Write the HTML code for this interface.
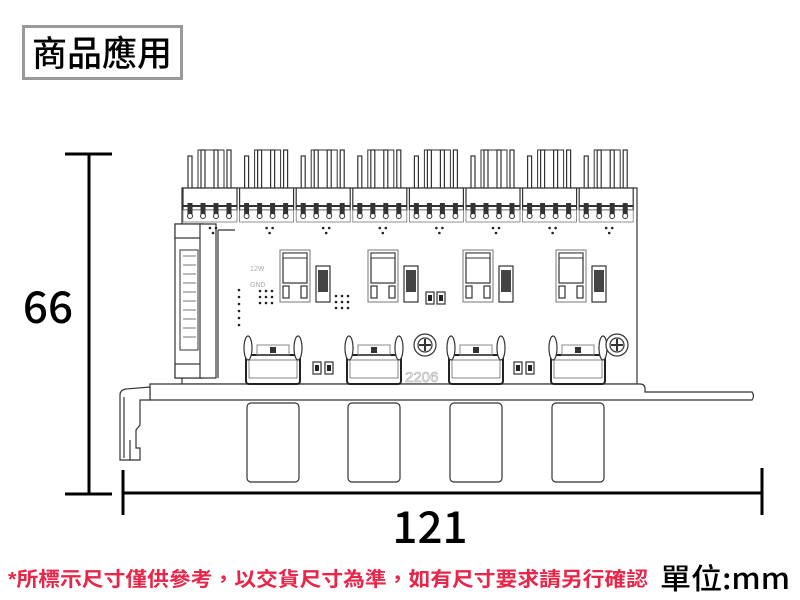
<!DOCTYPE html>
<html><head><meta charset="utf-8"><style>
html,body{margin:0;padding:0;background:#fff;width:800px;height:600px;overflow:hidden}
svg{display:block}
</style></head><body>
<svg id="s" width="800" height="600" viewBox="0 0 800 600" xmlns="http://www.w3.org/2000/svg">
<rect width="800" height="600" fill="#fff"/>
<rect x="23.5" y="26.5" width="158" height="52" fill="#fff" stroke="#999" stroke-width="3"/>
<text x="102" y="66" text-anchor="middle" font-family="Noto Sans CJK TC, sans-serif" font-weight="500" font-size="35" fill="#000" textLength="140" lengthAdjust="spacingAndGlyphs">商品應用</text>

<g stroke="#000" stroke-width="3" fill="none">
<line x1="89" y1="154" x2="89" y2="494"/>
<line x1="65" y1="154" x2="112" y2="154"/>
<line x1="65" y1="494" x2="112" y2="494"/>
<line x1="123" y1="493" x2="762" y2="493"/>
<line x1="123" y1="470" x2="123" y2="515"/>
<line x1="762" y1="468" x2="762" y2="515"/>
</g>
<text x="48" y="323" text-anchor="middle" font-family="Noto Sans CJK TC, sans-serif" font-weight="500" font-size="44" fill="#000">66</text>
<text x="430" y="543" text-anchor="middle" font-family="Noto Sans CJK TC, sans-serif" font-weight="500" font-size="44" fill="#000">121</text>

<g id="board" stroke="#333" stroke-width="1.2" fill="#fff">
<rect x="182" y="188" width="455" height="196"/>
<path d="M150 384 L640 384 Q645 384 645 389 L645 392 L752 392 Q755 396 752 400 L150 400 Z"/>
<path d="M120 395 Q120 390 126 389 L150 387 L150 400 L140 400 L140 425 L136 430 L136 448 L140 448 L140 460 L120 460 Z"/>
<line x1="124" y1="397" x2="124" y2="458"/>
<line x1="130" y1="440" x2="130" y2="460"/>
<rect x="175" y="224" width="28" height="154"/>
<rect x="175" y="224" width="28" height="14"/>
<rect x="175" y="364" width="28" height="14"/>
<rect x="200" y="224" width="16" height="154"/>
<rect x="180" y="250" width="18" height="100" stroke="#555"/>
<line x1="218" y1="230" x2="235" y2="230"/>
<line x1="218" y1="230" x2="218" y2="378"/>
</g>
<g id="gen"></g>
<text x="8" y="586" font-family="Liberation Sans, Noto Sans CJK TC, sans-serif" font-weight="bold" font-size="20" fill="#e8264a" textLength="640" lengthAdjust="spacingAndGlyphs">*所標示尺寸僅供參考，以交貨尺寸為準，如有尺寸要求請另行確認</text>
<text x="660" y="589" font-family="Noto Sans CJK TC, sans-serif" font-weight="500" font-size="29" fill="#000" textLength="130" lengthAdjust="spacingAndGlyphs">單位:mm</text>
</svg>
<script>
var g=document.getElementById('gen'),h='';
var S='stroke="#333" stroke-width="1.2" fill="#fff"';
for(var i=0;i<8;i++){
 var x=183+i*56.6;
 h+='<rect x="'+x+'" y="188" width="54" height="22" '+S+'/>';
 h+='<rect x="'+x+'" y="210" width="54" height="12" stroke="#777" stroke-width="0.8" fill="#fff"/>';
 h+='<rect x="'+(x+15)+'" y="150" width="26" height="38" stroke="#333" stroke-width="1" fill="none"/>';
 for(var p=0;p<4;p++){var px=x+7+p*13;
  h+='<rect x="'+(px-2)+'" y="'+(p==0?156:150)+'" width="4" height="'+(p==0?32:38)+'" '+S+'/>';
  h+='<rect x="'+(px-2.5)+'" y="203" width="5" height="12" fill="#333"/>';
  h+='<circle cx="'+px+'" cy="216" r="2.5" stroke="#333" fill="#fff"/>';}
 h+='<line x1="'+x+'" y1="206" x2="'+(x+54)+'" y2="206" stroke="#333" stroke-width="2"/>';
 h+='<circle cx="'+(x+27)+'" cy="228" r="1.3" fill="#222"/><circle cx="'+(x+33)+'" cy="228" r="1.3" fill="#222"/><circle cx="'+(x+30)+'" cy="233" r="1.3" fill="#222"/>';
}
for(var i=0;i<6;i++){h+='<circle cx="239" cy="'+(290+i*7)+'" r="1.3" fill="#222"/>';}
for(var r=0;r<3;r++)for(var c=0;c<3;c++){h+='<circle cx="'+(260+c*6)+'" cy="'+(291+r*6)+'" r="1.3" fill="#222"/><circle cx="'+(336+c*6)+'" cy="'+(296+r*6)+'" r="1.3" fill="#222"/>';}
h+='<text x="250" y="271" font-family="Liberation Sans,sans-serif" font-size="7" fill="#aaa">12W</text><text x="250" y="287" font-family="Liberation Sans,sans-serif" font-size="7" fill="#aaa">GND</text>';
var qx=[280,368,463,556];
for(var i=0;i<4;i++){var x=qx[i];
 h+='<rect x="'+x+'" y="250" width="30" height="52" stroke="#777" fill="none"/>';
 h+='<rect x="'+(x+3)+'" y="253" width="24" height="30" '+S+'/>';
 h+='<rect x="'+(x+3)+'" y="253" width="24" height="5" fill="#fff" stroke="#333"/>';
 h+='<rect x="'+(x+3)+'" y="286" width="6" height="12" '+S+'/><rect x="'+(x+21)+'" y="286" width="6" height="12" '+S+'/>';
 h+='<rect x="'+(x+36)+'" y="266" width="14" height="36" '+S+'/><rect x="'+(x+38)+'" y="270" width="10" height="22" fill="#444"/>';
}
var kx=[247,348,450,552];
for(var i=0;i<4;i++){var x=kx[i];
 h+='<rect x="'+x+'" y="403" width="52" height="79" rx="4" '+S+'/>';
 h+='<rect x="'+(x-1)+'" y="355" width="54" height="29" rx="3" stroke="#222" stroke-width="2" fill="#fff"/>';
 h+='<rect x="'+(x+2)+'" y="360" width="48" height="18" stroke="#666" stroke-width="0.8" fill="none"/>';
 h+='<ellipse cx="'+(x+1)+'" cy="348" rx="4" ry="12" '+S+'/><ellipse cx="'+(x+51)+'" cy="348" rx="4" ry="12" '+S+'/>';
 h+='<rect x="'+(x+10)+'" y="345" width="32" height="10" stroke="#888" fill="none"/>';
 h+='<rect x="'+(x+23)+'" y="347" width="6" height="6" fill="#333"/>';
}
[[313,362],[325,362],[514,362],[526,362],[426,292],[437,292]].forEach(function(c){
 h+='<rect x="'+c[0]+'" y="'+c[1]+'" width="8" height="12" '+S+'/><rect x="'+(c[0]+2)+'" y="'+(c[1]+3)+'" width="4" height="6" fill="#222"/>';});
[[425,345],[617,345]].forEach(function(c){
 h+='<circle cx="'+c[0]+'" cy="'+c[1]+'" r="11" '+S+'/><circle cx="'+c[0]+'" cy="'+c[1]+'" r="7" '+S+'/><path d="M'+(c[0]-6)+' '+c[1]+'h12M'+c[0]+' '+(c[1]-6)+'v12" stroke="#333" stroke-width="2"/>';});
h+='<text x="405" y="382" font-family="Liberation Sans,sans-serif" font-size="15" fill="none" stroke="#bbb" stroke-width="0.8">2206</text>';
for(var i=0;i<10;i++){h+='<line x1="183" y1="'+(256+i*9)+'" x2="196" y2="'+(256+i*9)+'" stroke="#555" stroke-width="0.8"/>';}
g.innerHTML=h;
</script>
</body></html>
